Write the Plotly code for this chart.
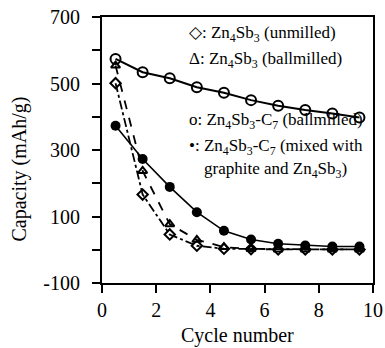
import plotly.graph_objects as go

cycles = [0.5, 1.5, 2.5, 3.5, 4.5, 5.5, 6.5, 7.5, 8.5, 9.5]
unmilled = [501, 166, 46, 12, 3, 2, 1, 1, 1, 1]
ballmilled = [554, 237, 77, 30, 8, 2, 1, 1, 1, 1]
c7_ballmilled = [574, 534, 516, 489, 472, 450, 433, 420, 410, 398]
c7_mixed = [373, 273, 189, 113, 57, 31, 18, 13, 10, 10]

y_ticks = [-100, 0, 100, 200, 300, 400, 500, 600, 700]
y_ticktext = ["-100", "", "100", "", "300", "", "500", "", "700"]
x_ticks = [0, 2, 4, 6, 8, 10]

x_title = "Cycle number"
y_title = "Capacity (mAh/g)"
legend_lines = [
    "◇: Zn<sub>4</sub>Sb<sub>3</sub> (unmilled)",
    "Δ: Zn<sub>4</sub>Sb<sub>3</sub> (ballmilled)",
    "o: Zn<sub>4</sub>Sb<sub>3</sub>-C<sub>7</sub> (ballmilled)",
    "•: Zn<sub>4</sub>Sb<sub>3</sub>-C<sub>7</sub> (mixed with",
    "graphite and Zn<sub>4</sub>Sb<sub>3</sub>)",
]

FONT = "Liberation Serif"

fig = go.Figure()
fig.add_trace(go.Scatter(
    x=cycles, y=c7_ballmilled, mode="lines+markers",
    line=dict(color="black", width=2),
    marker=dict(symbol="circle-open", size=10, color="black", line=dict(width=2)),
))
fig.add_trace(go.Scatter(
    x=cycles, y=c7_mixed, mode="lines+markers",
    line=dict(color="black", width=1.6),
    marker=dict(symbol="circle", size=10, color="black"),
))
fig.add_trace(go.Scatter(
    x=cycles, y=ballmilled, mode="lines+markers",
    line=dict(color="black", width=1.8, dash="dash"),
    marker=dict(symbol="triangle-up-open", size=8, color="black", line=dict(width=2)),
))
fig.add_trace(go.Scatter(
    x=cycles, y=unmilled, mode="lines+markers",
    line=dict(color="black", width=1.8, dash="dashdot"),
    marker=dict(symbol="diamond-open", size=8, color="black", line=dict(width=2)),
))

ann_pos = [(0.314, 0.935), (0.314, 0.838), (0.314, 0.609), (0.314, 0.513), (0.368, 0.425)]
for txt, (px, py) in zip(legend_lines, ann_pos):
    fig.add_annotation(
        text=txt, xref="paper", yref="paper", x=px, y=py,
        xanchor="left", yanchor="middle", showarrow=False,
        font=dict(family=FONT, size=17, color="black"),
    )

fig.add_annotation(
    text=x_title, xref="paper", yref="paper", x=0.5, y=-0.198,
    xanchor="center", yanchor="middle", showarrow=False,
    font=dict(family=FONT, size=20, color="black"),
)
fig.add_annotation(
    text=y_title, xref="paper", yref="paper", x=-0.303, y=0.43,
    xanchor="center", yanchor="middle", showarrow=False, textangle=-90,
    font=dict(family=FONT, size=20, color="black"),
)

fig.update_layout(
    width=385, height=348,
    margin=dict(l=102, r=12, t=17, b=65),
    paper_bgcolor="white", plot_bgcolor="white",
    showlegend=False,
    font=dict(family=FONT, size=19, color="black"),
)
fig.update_xaxes(
    range=[0, 10], tickvals=x_ticks, ticks="outside", ticklen=8, tickwidth=1.5,
    tickcolor="black", showline=True, linecolor="black", linewidth=2, mirror=True,
    showgrid=False, zeroline=False, automargin=False,
    tickfont=dict(family=FONT, size=20),
)
fig.update_yaxes(
    range=[-100, 700], tickvals=y_ticks, ticktext=y_ticktext, ticks="outside",
    ticklen=8, tickwidth=1.5, tickcolor="black", showline=True, linecolor="black",
    linewidth=2, mirror=True, showgrid=False, zeroline=False, ticklabelstandoff=8,
    automargin=False,
    tickfont=dict(family=FONT, size=20),
)

fig.write_html("out.html")
